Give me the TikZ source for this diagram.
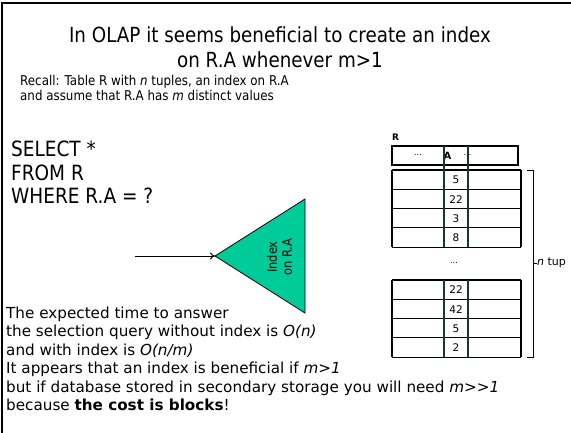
\documentclass[tikz,border=0pt]{standalone}
\usepackage{fontspec}
\setmainfont{DejaVu Sans}
\newfontfamily\tah[FakeStretch=0.88]{DejaVu Sans}
\usetikzlibrary{arrows.meta}
\definecolor{turq}{RGB}{0,204,153}
\definecolor{vgreen}{RGB}{20,60,45}
\tikzset{
  txt/.style={inner sep=0pt,anchor=base west},
  body/.style={txt,font=\fontsize{15.2}{18}\selectfont},
  val/.style={inner sep=0pt,font=\fontsize{10.5}{12}\selectfont},
  rowline/.style={line width=1.1pt},
  vline/.style={line width=1.1pt,draw=vgreen},
}
\begin{document}
\begin{tikzpicture}[x=1pt,y=-1pt]
\useasboundingbox (0,0) rectangle (571,432);
% frame
\draw[line width=2pt] (1.5,433) -- (1.5,2.5) -- (572,2.5);
% title
\node[inner sep=0pt,anchor=base,font=\tah\fontsize{20.8}{24}\selectfont] (t1) at (280,42) {In OLAP it seems beneficial to create an index};
\node[inner sep=0pt,anchor=base,font=\tah\fontsize{20.8}{24}\selectfont] (t2) at (280,67.5) {on R.A whenever m>1};
\node[txt,font=\tah\fontsize{13.5}{16}\selectfont] (r1) at (20,85) {Recall: Table R with \textit{n} tuples, an index on R.A};
\node[txt,font=\tah\fontsize{13.5}{16}\selectfont] (r2) at (20,100) {and assume that R.A has \textit{m} distinct values};
% SQL
\node[txt,font=\tah\fontsize{21}{24}\selectfont] (s1) at (11,156) {SELECT *};
\node[txt,font=\tah\fontsize{21}{24}\selectfont] (s2) at (11,180) {FROM R};
\node[txt,font=\tah\fontsize{21}{24}\selectfont] (s3) at (11,203) {WHERE R.A = ?};
% index triangle
\coordinate (tip) at (215,256);
\coordinate (src) at (135,256);
\filldraw[fill=turq,draw=black,line width=0.8pt] (tip) -- (305,199) -- (305,313) -- cycle;
\node[inner sep=0pt,rotate=90,align=center,font=\tah\fontsize{13}{15}\selectfont] (idx) at (279.5,257) {Index\\on R.A};
\draw[line width=1pt,-{To[length=5pt,width=7pt]}] (src) -- (tip);
% bottom text
\node[body] (b1) at (6,318) {The expected time to answer};
\node[body] (b2) at (6,336.5) {the selection query without index is \textit{O(n)}};
\node[body] (b3) at (6,355) {and with index is \textit{O(n/m)}};
\node[body] (b4) at (6,373.5) {It appears that an index is beneficial if \textit{m>1}};
\node[body] (b5) at (6,392) {but if database stored in secondary storage you will need \textit{m>\kern0pt>1}};
\node[body] (b6) at (6,410.5) {because \textbf{the cost is blocks}!};
% table
\node[inner sep=0pt,font=\bfseries\fontsize{9}{10}\selectfont] (R) at (395.5,137) {R};
\draw[line width=2.2pt] (392,146) rectangle (518,165);
\node[inner sep=0pt,font=\fontsize{8}{9}\selectfont] (d1) at (418,155) {...};
\node[inner sep=0pt,font=\bfseries\fontsize{10}{11}\selectfont] (A) at (447.5,155.5) {A};
\node[inner sep=0pt,font=\fontsize{8}{9}\selectfont] (d2) at (467.5,155) {...};
% first group
\foreach \y in {170,189.3,208.6,227.9,247.2} {\draw[rowline] (392,\y) -- (521,\y);}
\draw[rowline] (392,170) -- (392,247.2);
\draw[rowline] (521,170) -- (521,247.2);
\draw[vline] (444,146) -- (444,247.2);
\draw[vline] (468,146) -- (468,247.2);
\node[val] (v1) at (456,179.8) {5};
\node[val] (v2) at (456,199.1) {22};
\node[val] (v3) at (456,218.4) {3};
\node[val] (v4) at (456,237.7) {8};
\node[inner sep=0pt,font=\fontsize{8}{9}\selectfont] (dm) at (454,263) {...};
% second group
\foreach \y in {280,299.3,318.6,337.9,357.2} {\draw[rowline] (392,\y) -- (521,\y);}
\draw[rowline] (392,280) -- (392,357.2);
\draw[rowline] (521,280) -- (521,357.2);
\draw[vline] (444,280) -- (444,357.2);
\draw[vline] (468,280) -- (468,357.2);
\node[val] (w1) at (456,289.8) {22};
\node[val] (w2) at (456,309.1) {42};
\node[val] (w3) at (456,328.4) {5};
\node[val] (w4) at (456,347.7) {2};
% brace
\draw[line width=1pt] (527,170) -- (533,170) -- (533,357.2) -- (527,357.2);
\draw[line width=1pt] (533,263) -- (537,263);
\node[inner sep=0pt,anchor=west,font=\fontsize{11}{13}\selectfont] (nt) at (537,263) {\textit{n} tup};
\end{tikzpicture}
\end{document}
